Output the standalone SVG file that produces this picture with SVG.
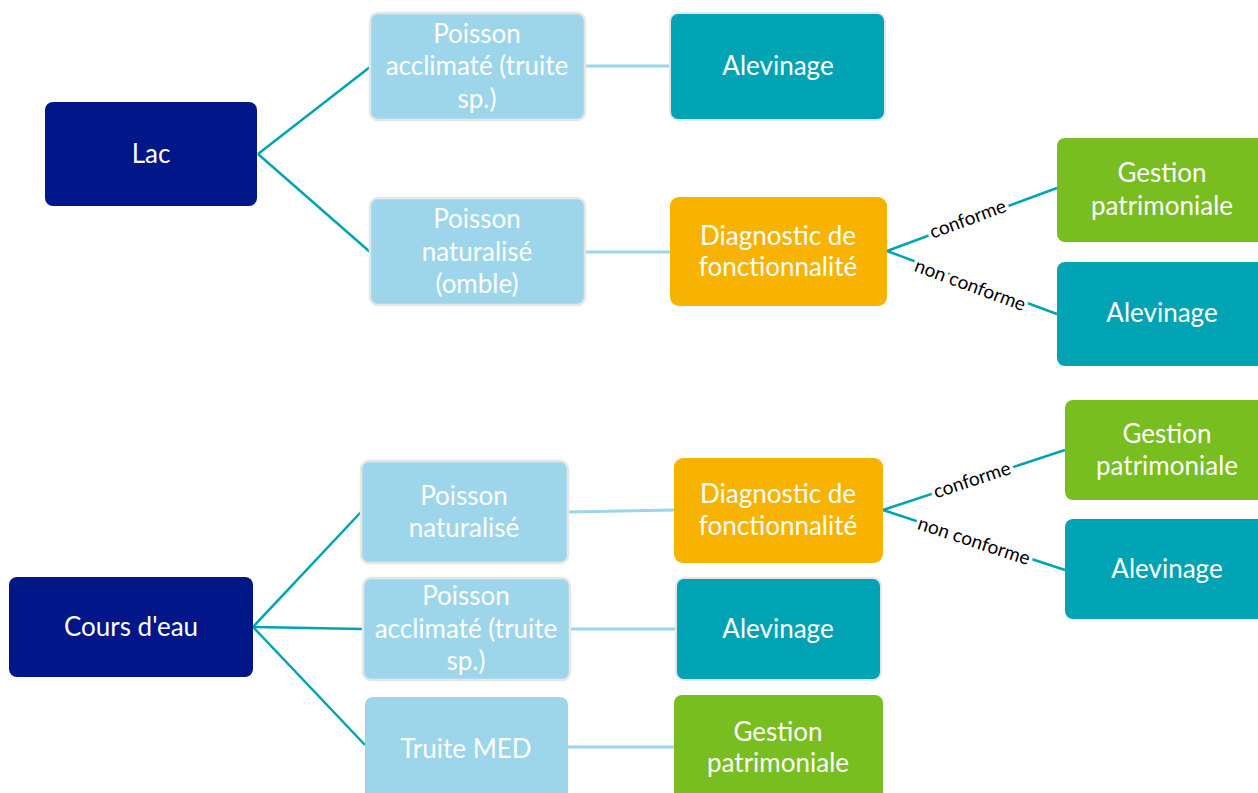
<svg xmlns="http://www.w3.org/2000/svg" width="1258" height="793" viewBox="0 0 1258 793">
<style>
.t{font-family:Lato,"Open Sans","Liberation Sans",sans-serif;font-size:26px;fill:#fff;text-anchor:middle}
.lbl{font-family:Lato,"Open Sans","Liberation Sans",sans-serif;font-size:19px;fill:#000;text-anchor:middle;stroke:#fff;stroke-width:7;paint-order:stroke;stroke-linejoin:round}
.navy{fill:#001689}
.lb{fill:#9DD6EA;stroke:#E4E6E8;stroke-width:2.5}
.teal{fill:#00A3B4;stroke:#E4E6E8;stroke-width:2}
.teal2{fill:#00A3B4}
.or{fill:#F8B300}
.gr{fill:#78BE20}
.c1{stroke:#00A3B4;stroke-width:2.5;fill:none}
.c2{stroke:#9DD6EA;stroke-width:3;fill:none}
</style>
<rect width="1258" height="793" fill="#fff"/>
<g id="connectors">
<line class="c1" x1="258" y1="154" x2="370" y2="67"/>
<line class="c1" x1="258" y1="154" x2="370" y2="252"/>
<line class="c2" x1="585" y1="66" x2="670" y2="66"/>
<line class="c2" x1="585" y1="252" x2="670" y2="252"/>
<line class="c1" x1="887" y1="251" x2="1057" y2="188"/>
<line class="c1" x1="887" y1="251" x2="1057" y2="314"/>
<line class="c1" x1="253" y1="627" x2="361" y2="512"/>
<line class="c1" x1="253" y1="627" x2="363" y2="629"/>
<line class="c1" x1="253" y1="627" x2="365" y2="745"/>
<line class="c2" x1="568" y1="512" x2="674" y2="510"/>
<line class="c2" x1="570" y1="629" x2="676" y2="629"/>
<line class="c2" x1="568" y1="747" x2="674" y2="747"/>
<line class="c1" x1="883" y1="510" x2="1065" y2="450"/>
<line class="c1" x1="883" y1="510" x2="1065" y2="570"/>
<text class="lbl" transform="translate(970,225) rotate(-20.3)">conforme</text>
<text class="lbl" transform="translate(968,291) rotate(20.3)">non conforme</text>
<text class="lbl" transform="translate(974,486) rotate(-18.2)">conforme</text>
<text class="lbl" transform="translate(972,547) rotate(18.2)">non conforme</text>
</g>
<g id="lac"><rect class="navy" x="45" y="102" width="212" height="104" rx="8"/><text class="t" x="151" y="163">Lac</text></g>
<g id="lac-acclimate"><rect class="lb" x="370" y="13" width="215" height="107" rx="8"/><text class="t" x="477" y="43">Poisson</text><text class="t" x="477" y="75">acclimaté (truite</text><text class="t" x="477" y="108">sp.)</text></g>
<g id="lac-alevinage"><rect class="teal" x="670" y="13" width="215" height="107" rx="8"/><text class="t" x="778" y="75">Alevinage</text></g>
<g id="lac-naturalise"><rect class="lb" x="370" y="198" width="215" height="107" rx="8"/><text class="t" x="477" y="228">Poisson</text><text class="t" x="477" y="261">naturalisé</text><text class="t" x="477" y="293">(omble)</text></g>
<g id="lac-diagnostic"><rect class="or" x="670" y="197" width="217" height="109" rx="9"/><text class="t" x="778" y="245">Diagnostic de</text><text class="t" x="778" y="276">fonctionnalité</text></g>
<g id="lac-gestion"><rect class="gr" x="1057" y="138" width="210" height="104" rx="8"/><text class="t" x="1162" y="182">Gestion</text><text class="t" x="1162" y="215">patrimoniale</text></g>
<g id="lac-alevinage2"><rect class="teal2" x="1057" y="262" width="210" height="104" rx="8"/><text class="t" x="1162" y="322">Alevinage</text></g>
<g id="cours"><rect class="navy" x="9" y="577" width="244" height="100" rx="8"/><text class="t" x="131" y="636">Cours d'eau</text></g>
<g id="cours-naturalise"><rect class="lb" x="361" y="461" width="207" height="102" rx="8"/><text class="t" x="464" y="505">Poisson</text><text class="t" x="464" y="537">naturalisé</text></g>
<g id="cours-acclimate"><rect class="lb" x="363" y="578" width="207" height="102" rx="8"/><text class="t" x="466" y="605">Poisson</text><text class="t" x="466" y="638">acclimaté (truite</text><text class="t" x="466" y="670">sp.)</text></g>
<g id="cours-truite"><rect fill="#9DD6EA" x="365" y="697" width="203" height="110" rx="8"/><text class="t" x="466" y="758">Truite MED</text></g>
<g id="cours-diagnostic"><rect class="or" x="674" y="458" width="209" height="105" rx="9"/><text class="t" x="778" y="503">Diagnostic de</text><text class="t" x="778" y="535">fonctionnalité</text></g>
<g id="cours-alevinage"><rect class="teal" x="676" y="578" width="205" height="102" rx="8"/><text class="t" x="778" y="638">Alevinage</text></g>
<g id="cours-gestion"><rect class="gr" x="674" y="695" width="209" height="112" rx="8"/><text class="t" x="778" y="741">Gestion</text><text class="t" x="778" y="772">patrimoniale</text></g>
<g id="cours-gestion2"><rect class="gr" x="1065" y="400" width="205" height="100" rx="8"/><text class="t" x="1167" y="443">Gestion</text><text class="t" x="1167" y="475">patrimoniale</text></g>
<g id="cours-alevinage2"><rect class="teal2" x="1065" y="519" width="205" height="100" rx="8"/><text class="t" x="1167" y="578">Alevinage</text></g>
</svg>
